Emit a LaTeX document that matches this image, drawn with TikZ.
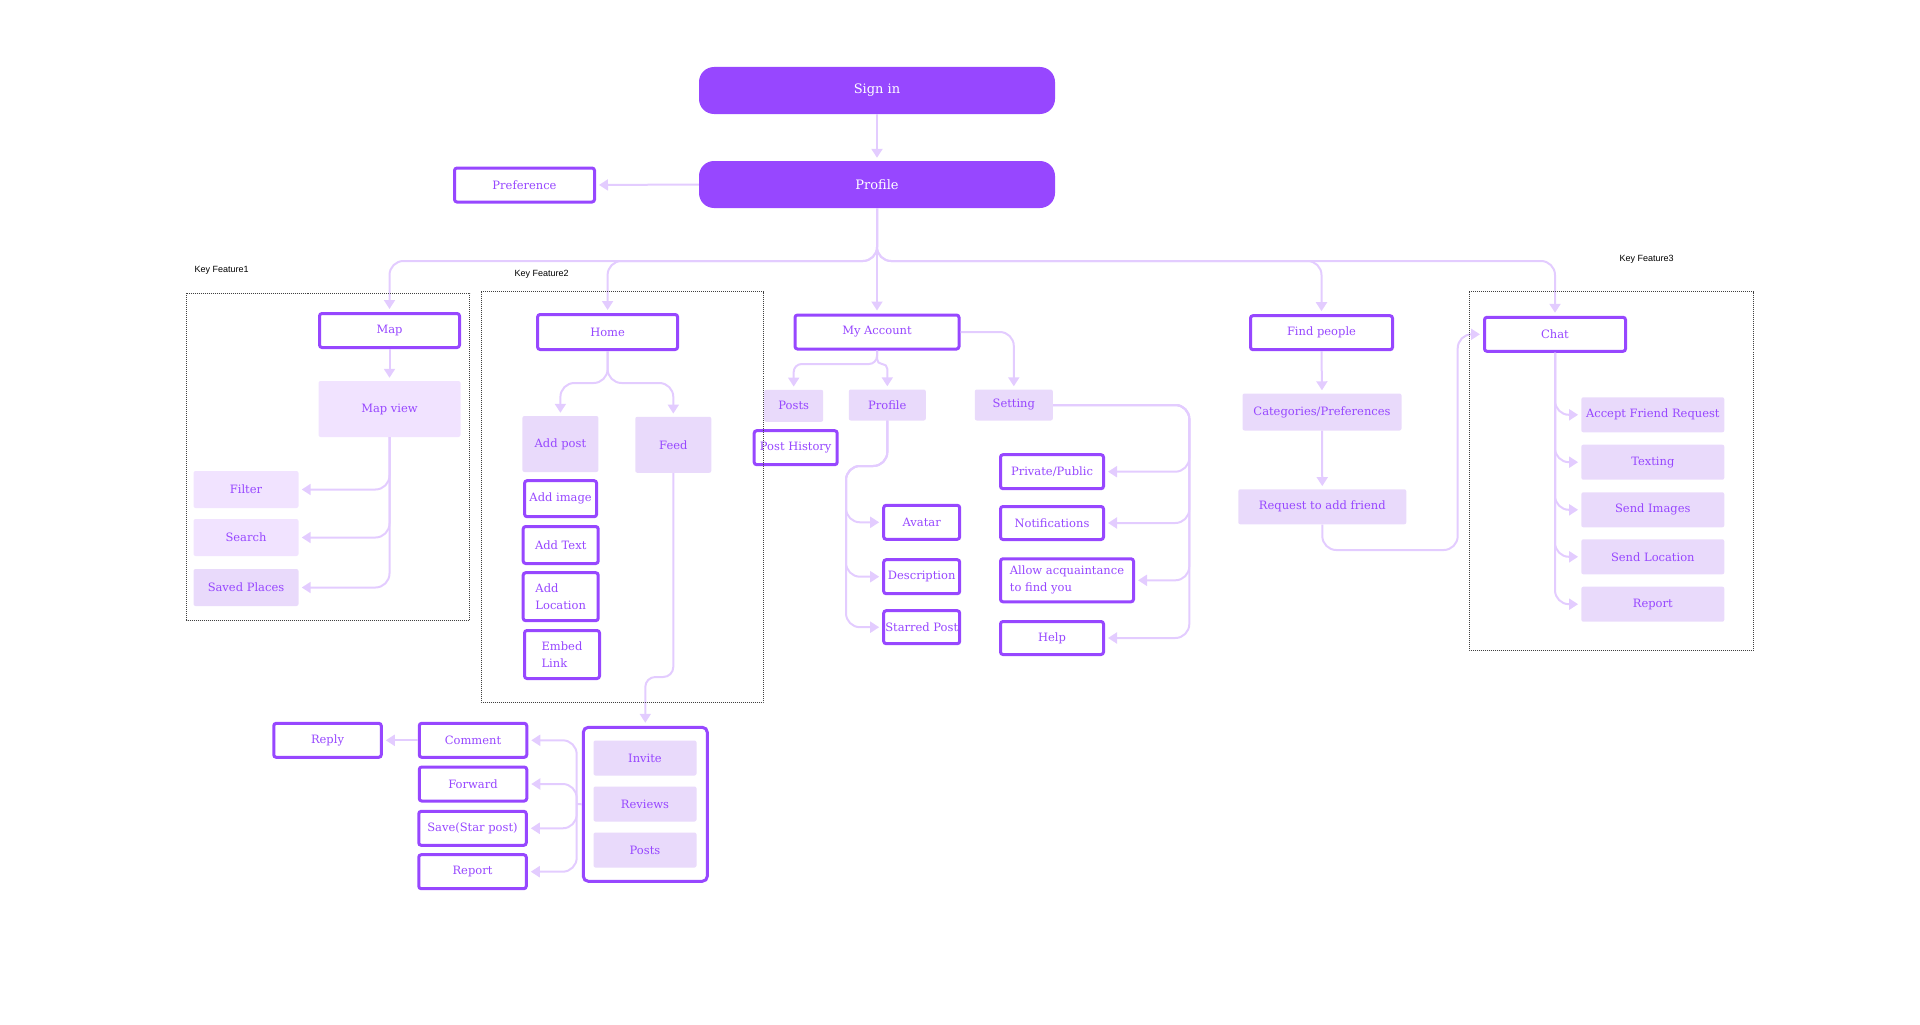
\documentclass[tikz,border=0pt]{standalone}
\usepackage{fontspec}
\setmainfont{DejaVu Serif}
\newfontfamily\keyfont{Liberation Sans}
\usepackage{xcolor}
\usepackage{tikz}
\usetikzlibrary{arrows.meta}

\definecolor{brand}{HTML}{9747FF}
\definecolor{soft}{HTML}{E9DAFB}
\definecolor{pale}{HTML}{F1E3FF}
\definecolor{wirecol}{HTML}{E3CCFF}

\tikzset{
  solidbox/.style={fill=brand, text=white, rounded corners=15pt, inner sep=0pt,
    minimum width=356pt, minimum height=47pt, font=\fontsize{13}{16}\selectfont},
  outbox/.style={draw=brand, line width=3pt, fill=white, text=brand, rounded corners=2.5pt,
    inner sep=0pt, minimum width=140pt, minimum height=34pt, align=center,
    font=\fontsize{11.5}{17}\selectfont},
  softbox/.style={fill=soft, text=brand, rounded corners=2pt, inner sep=0pt,
    minimum width=143pt, minimum height=35pt, font=\fontsize{11.5}{17}\selectfont},
  palebox/.style={softbox, fill=pale},
  flowline/.style={draw=wirecol, line width=2pt, rounded corners=14pt},
  flow/.style={flowline, -{Triangle[width=11pt,length=9pt]}, shorten >=3pt},
  group/.style={draw=black!75, densely dotted, line width=1pt},
  keylabel/.style={anchor=west, text=black, font=\keyfont\fontsize{9}{11}\selectfont}
}

\begin{document}
\begin{tikzpicture}[x=1pt, y=-1pt]

\useasboundingbox (0,0) rectangle (1920,1025);

\coordinate (bus) at (877,261);
\coordinate (homesplit) at (607.6,383);
\coordinate (feedjog) at (673.3,677);
\coordinate (acttrunk) at (576.7,804);
\coordinate (masplit) at (877,364);
\coordinate (projog) at (846,466);
\coordinate (settrunk) at (1189.3,405);
\coordinate (reqjog) at (1457.7,550);

\node[solidbox] (signin) at (877,90.5) {Sign in};
\node[solidbox] (profile) at (877,184.5) {Profile};
\node[outbox] (preference) at (524.5,185) {Preference};

\node[outbox] (map) at (389.5,330.5) {Map};
\node[palebox, minimum width=142pt, minimum height=56pt] (mapview) at (389.5,409) {Map view};
\node[palebox, minimum width=105pt, minimum height=37pt] (filter) at (246,489.5) {Filter};
\node[palebox, minimum width=105pt, minimum height=37pt] (search) at (246,537.5) {Search};
\node[softbox, minimum width=105pt, minimum height=37pt] (saved) at (246,587.5) {Saved Places};

\node[outbox, minimum height=35pt] (home) at (607.6,332) {Home};
\node[softbox, minimum width=76pt, minimum height=56pt] (addpost) at (560.4,444) {Add post};
\node[softbox, minimum width=76pt, minimum height=56pt] (feed) at (673.3,444.8) {Feed};
\node[outbox, minimum width=72pt, minimum height=36pt] (addimage) at (560.6,498.7) {Add image};
\node[outbox, minimum width=75pt, minimum height=37pt] (addtext) at (560.7,545) {Add Text};
\node[outbox, minimum width=75pt, minimum height=48pt, align=left] (addloc) at (560.7,596.7) {Add\\Location};
\node[outbox, minimum width=75pt, minimum height=48pt, align=left] (embed) at (562,654.5) {Embed\\Link};

\node[outbox, minimum width=124pt, minimum height=154pt, rounded corners=5pt] (actions) at (645.3,804.3) {};
\node[softbox, minimum width=103pt] (invite) at (645,758) {Invite};
\node[softbox, minimum width=103pt] (reviews) at (645,804) {Reviews};
\node[softbox, minimum width=103pt] (feedposts) at (645,850) {Posts};
\node[outbox, minimum width=107.5pt] (comment) at (473,740.3) {Comment};
\node[outbox, minimum width=107.5pt] (forward) at (473,784) {Forward};
\node[outbox, minimum width=107.5pt] (save) at (472.5,828.3) {Save(Star post)};
\node[outbox, minimum width=107.5pt] (postreport) at (472.5,871.7) {Report};
\node[outbox, minimum width=107.5pt] (reply) at (327.5,740.3) {Reply};

\node[outbox, minimum width=164pt] (myaccount) at (877,332) {My Account};
\node[softbox, minimum width=59pt, minimum height=32pt] (posts) at (793.7,405.8) {Posts};
\node[outbox, minimum width=83pt] (posthistory) at (795.7,447.7) {Post History};
\node[softbox, minimum width=77pt, minimum height=31pt] (subprofile) at (887.3,405) {Profile};
\node[softbox, minimum width=78pt, minimum height=31pt] (setting) at (1013.8,405) {Setting};
\node[outbox, minimum width=76pt] (avatar) at (921.7,522.3) {Avatar};
\node[outbox, minimum width=76pt] (description) at (921.7,576.7) {Description};
\node[outbox, minimum width=76pt, minimum height=33pt] (starred) at (921.7,627.2) {Starred Post};
\node[outbox, minimum width=103pt] (private) at (1052,471.7) {Private/Public};
\node[outbox, minimum width=103pt, minimum height=33pt] (notif) at (1052,523) {Notifications};
\node[outbox, minimum width=133pt, minimum height=43pt, align=left] (allow) at (1067,580.3) {Allow acquaintance\\to find you};
\node[outbox, minimum width=103pt, minimum height=33pt] (help) at (1052,638) {Help};

\node[outbox, minimum width=142pt] (findpeople) at (1321.5,332.7) {Find people};
\node[softbox, minimum width=159pt, minimum height=37pt] (categories) at (1322,412) {Categories/Preferences};
\node[softbox, minimum width=168pt] (request) at (1322.3,506.8) {Request to add friend};

\node[outbox, minimum width=141pt] (chat) at (1555,334.3) {Chat};
\node[softbox] (accept) at (1652.8,414.8) {Accept Friend Request};
\node[softbox] (texting) at (1652.8,462.2) {Texting};
\node[softbox] (sendimages) at (1652.8,509.8) {Send Images};
\node[softbox] (sendlocation) at (1652.8,556.8) {Send Location};
\node[softbox] (chatreport) at (1652.8,604.2) {Report};

\draw[flow] (signin.south) -- (profile.north);
\draw[flow] (profile.west) -- (preference.east);
\draw[flow] (profile.south) -- (profile.south |- bus) -| (map.north);
\draw[flow] (profile.south) -- (profile.south |- bus) -| (home.north);
\draw[flow] (profile.south) -- (myaccount.north);
\draw[flow] (profile.south) -- (profile.south |- bus) -| (findpeople.north);
\draw[flow] (profile.south) -- (profile.south |- bus) -| (chat.north);

\draw[flow] (map.south) -- (mapview.north);
\draw[flow] (mapview.south) |- (filter.east);
\draw[flow] (mapview.south) |- (search.east);
\draw[flow] (mapview.south) |- (saved.east);

\draw[flow] (home.south) -- (home.south |- homesplit) -| (addpost.north);
\draw[flow] (home.south) -- (home.south |- homesplit) -| (feed.north);
\draw[flow, rounded corners=10pt] (feed.south) -- (feed.south |- feedjog) -| (actions.north);

\draw[flowline] (actions.west) -- (acttrunk);
\draw[flow] (acttrunk) |- (comment.east);
\draw[flow] (acttrunk) |- (forward.east);
\draw[flow] (acttrunk) |- (save.east);
\draw[flow] (acttrunk) |- (postreport.east);
\draw[flow] (comment.west) -- (reply.east);

\draw[flow, rounded corners=8pt] (myaccount.south) -- (myaccount.south |- masplit) -| (posts.north);
\draw[flow, rounded corners=5pt] (myaccount.south) -- (myaccount.south |- masplit) -| (subprofile.north);
\draw[flow] (myaccount.east) -| (setting.north);

\draw[flow] (subprofile.south) |- (projog) |- (avatar.west);
\draw[flow] (subprofile.south) |- (projog) |- (description.west);
\draw[flow] (subprofile.south) |- (projog) |- (starred.west);

\draw[flow] (setting.east) -- (settrunk) |- (private.east);
\draw[flow] (setting.east) -- (settrunk) |- (notif.east);
\draw[flow] (setting.east) -- (settrunk) |- (allow.east);
\draw[flow] (setting.east) -- (settrunk) |- (help.east);

\draw[flow] (findpeople.south) -- (categories.north);
\draw[flow] (categories.south) -- (request.north);
\draw[flow] (request.south) |- (reqjog) |- (chat.west);

\draw[flow] (chat.south) |- (accept.west);
\draw[flow] (chat.south) |- (texting.west);
\draw[flow] (chat.south) |- (sendimages.west);
\draw[flow] (chat.south) |- (sendlocation.west);
\draw[flow] (chat.south) |- (chatreport.west);

\draw[group] (186.5,293) rectangle (469.5,620);
\draw[group] (481,291.5) rectangle (763,702);
\draw[group] (1469,291.5) rectangle (1753,650);

\node[keylabel] (keyone) at (191,270) {Key Feature1};
\node[keylabel] (keytwo) at (511,274) {Key Feature2};
\node[keylabel] (keythree) at (1616,259) {Key Feature3};

\end{tikzpicture}
\end{document}
